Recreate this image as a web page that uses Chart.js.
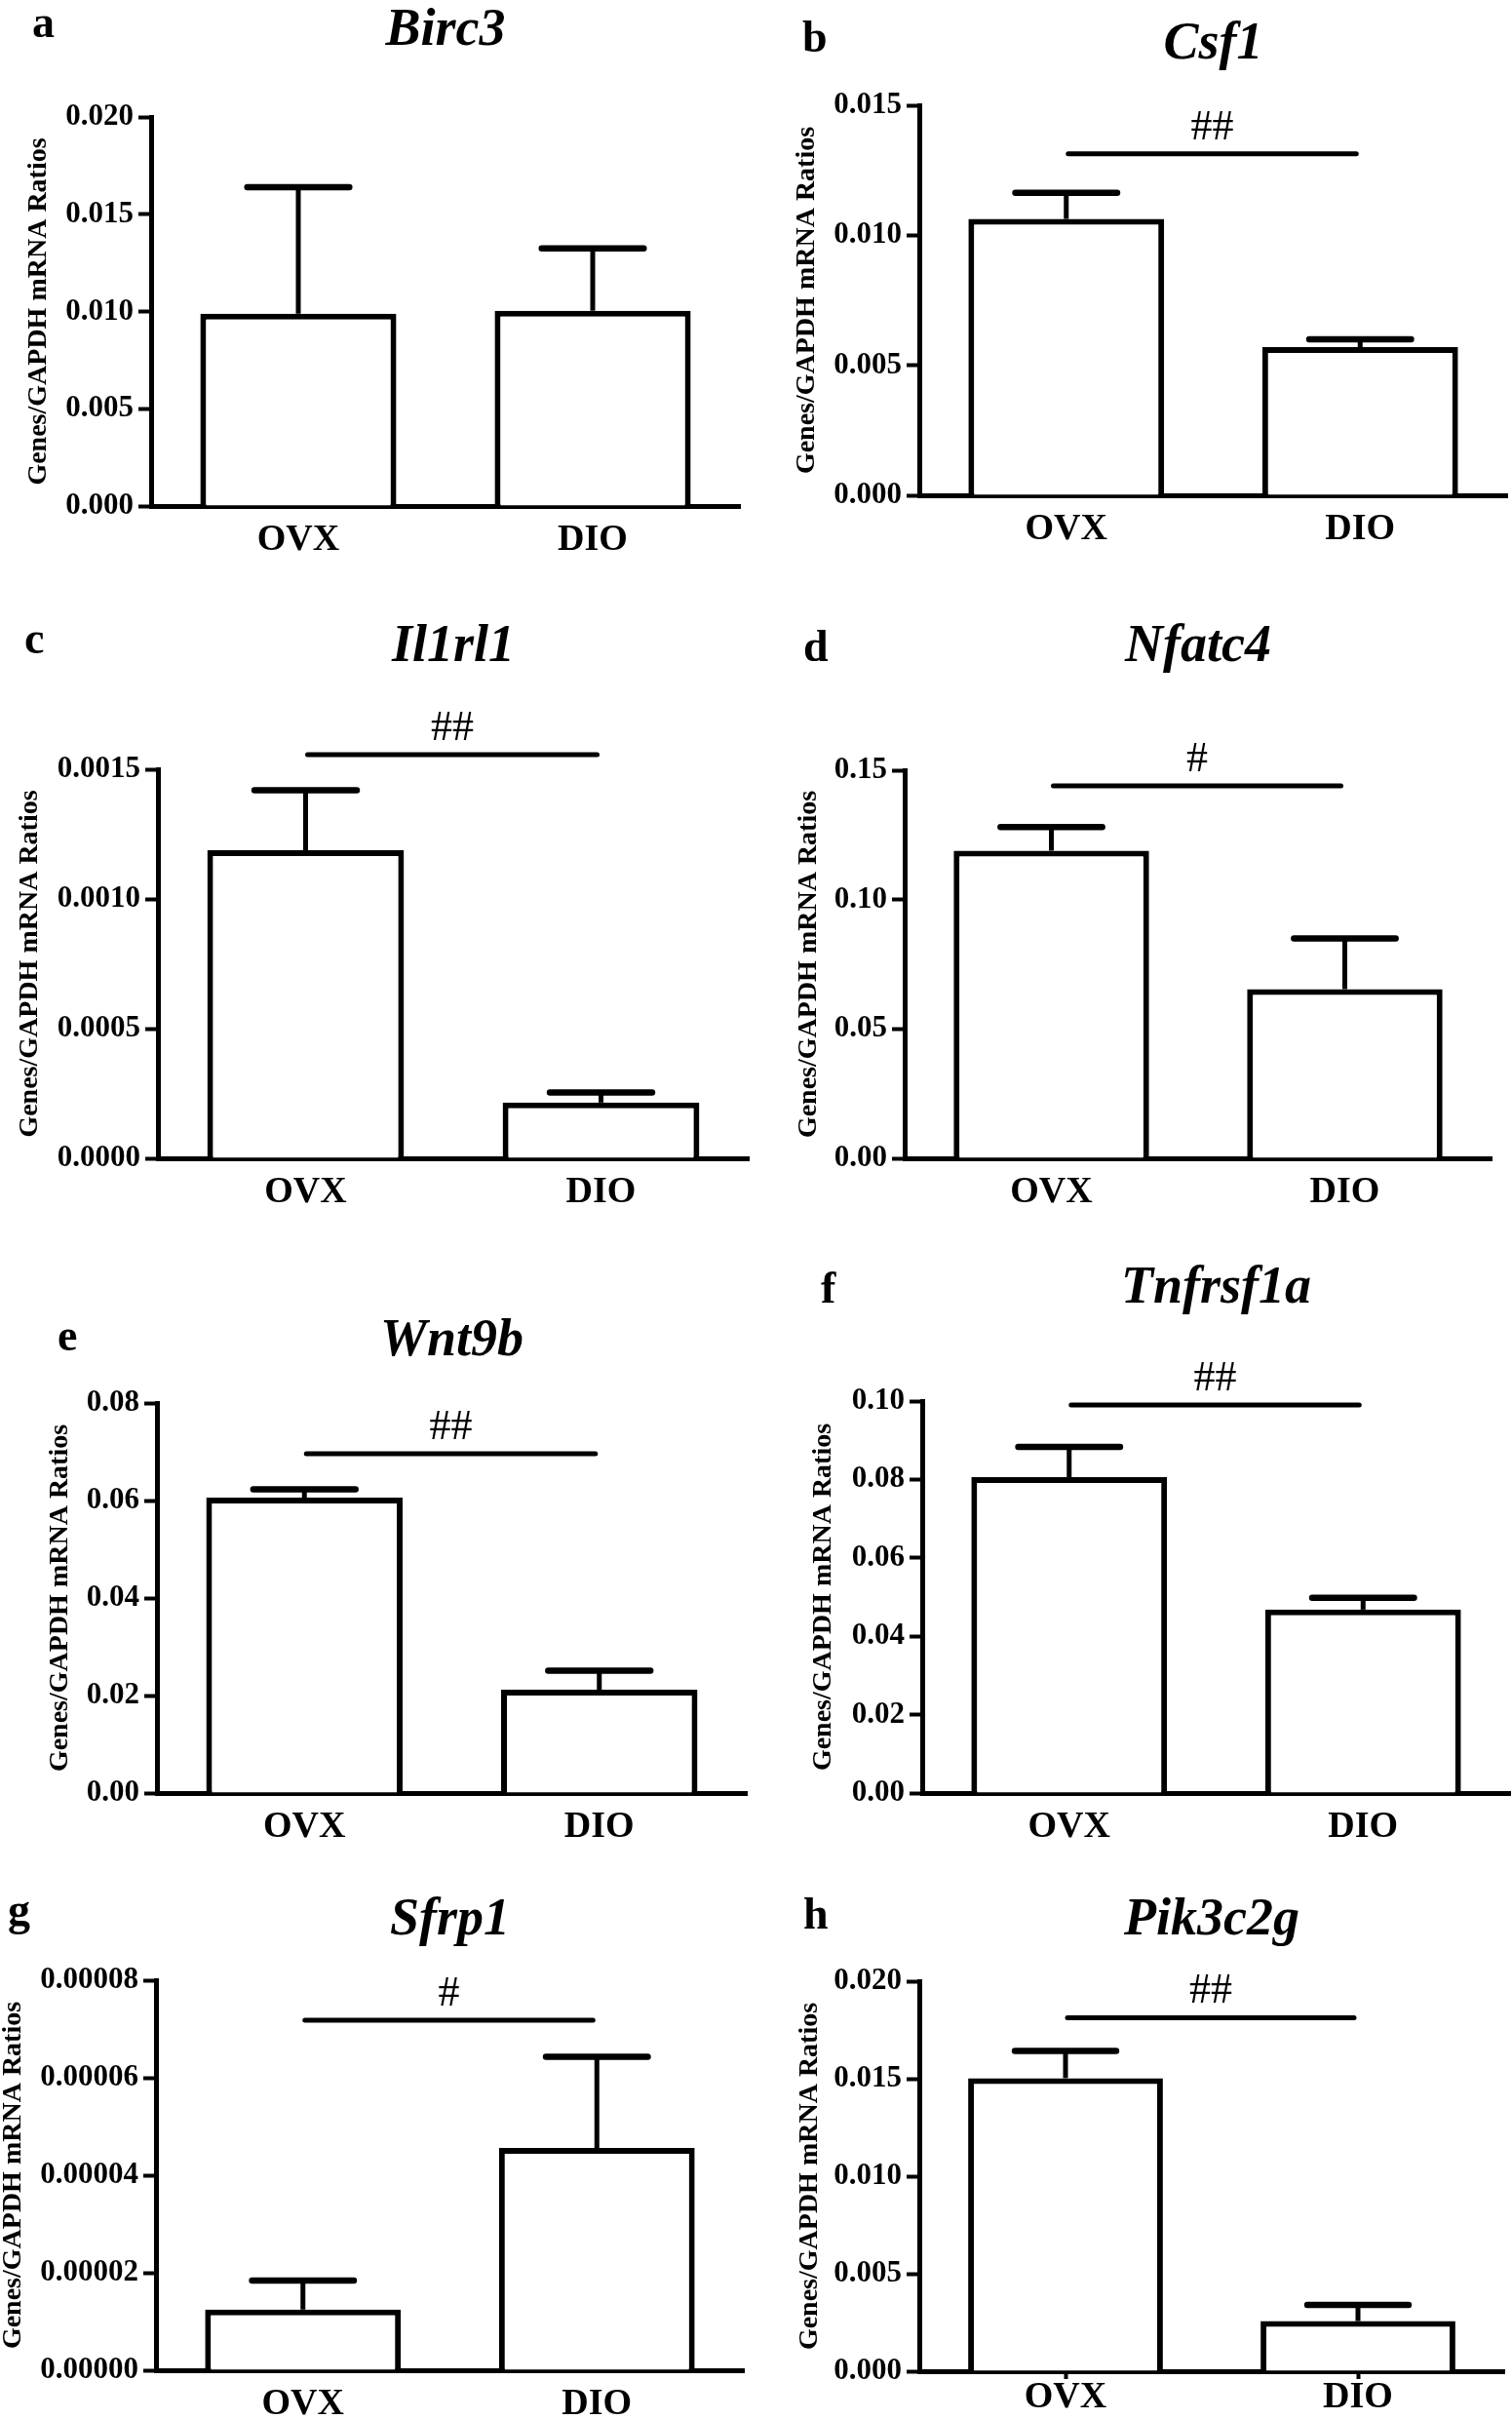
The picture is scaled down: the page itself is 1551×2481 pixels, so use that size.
<!DOCTYPE html>
<html>
<head>
<meta charset="utf-8">
<script src="https://cdn.jsdelivr.net/npm/chart.js@4.4.1/dist/chart.umd.min.js"></script>
<style>
  html, body { margin: 0; padding: 0; background: #fff; }
  body { width: 1551px; height: 2481px; position: relative; overflow: hidden; }
  canvas { position: absolute; }
</style>
</head>
<body>
<script>
// --- data ---
const groups = ['OVX', 'DIO'];
const genes = ['Birc3', 'Csf1', 'Il1rl1', 'Nfatc4', 'Wnt9b', 'Tnfrsf1a', 'Sfrp1', 'Pik3c2g'];
const letters = ['a', 'b', 'c', 'd', 'e', 'f', 'g', 'h'];

// mean per group (OVX, DIO)
const means = [
  [0.00989, 0.01004],
  [0.01063, 0.00570],
  [0.001188, 0.000215],
  [0.1189, 0.0654],
  [0.0606, 0.0212],
  [0.0806, 0.0468],
  [0.00001245, 0.0000456],
  [0.01503, 0.00257]
];
// upper error (SEM)
const sems = [
  [0.0065, 0.0032],
  [0.0010, 0.0003],
  [0.000231, 0.000039],
  [0.0091, 0.0196],
  [0.0017, 0.0039],
  [0.0077, 0.0030],
  [0.00000595, 0.0000187],
  [0.0014, 0.00083]
];
const yTickLabels = [
  ['0.000', '0.005', '0.010', '0.015', '0.020'],
  ['0.000', '0.005', '0.010', '0.015'],
  ['0.0000', '0.0005', '0.0010', '0.0015'],
  ['0.00', '0.05', '0.10', '0.15'],
  ['0.00', '0.02', '0.04', '0.06', '0.08'],
  ['0.00', '0.02', '0.04', '0.06', '0.08', '0.10'],
  ['0.00000', '0.00002', '0.00004', '0.00006', '0.00008'],
  ['0.000', '0.005', '0.010', '0.015', '0.020']
];
const sigMarks = ['', '##', '##', '#', '##', '##', '#', '##'];
const sigLevels = [null, 0.01313, 0.001556, 0.144, 0.0696, 0.099, 0.0000718, 0.01813];

const yTitle = 'Genes/GAPDH mRNA Ratios';

// --- page layout (pixels on the page) ---
const layout = [
  { left: 0,   top: 0,    w: 775, h: 600, axisX: 155, axisR: 759,  yTop: 120,  yBot: 519,  yTitleX: 40,  letter: [33, 38],    titleBase: 46 },
  { left: 775, top: 0,    w: 776, h: 600, axisX: 943, axisR: 1546, yTop: 108,  yBot: 508,  yTitleX: 828, letter: [823, 53],   titleBase: 60 },
  { left: 0,   top: 600,  w: 775, h: 670, axisX: 162, axisR: 768,  yTop: 789,  yBot: 1188, yTitleX: 31,  letter: [25, 670],   titleBase: 678 },
  { left: 775, top: 600,  w: 776, h: 670, axisX: 928, axisR: 1530, yTop: 790,  yBot: 1188, yTitleX: 830, letter: [824, 678],  titleBase: 678 },
  { left: 0,   top: 1270, w: 775, h: 635, axisX: 161, axisR: 766,  yTop: 1439, yBot: 1839, yTitleX: 62,  letter: [59, 1385],  titleBase: 1390 },
  { left: 775, top: 1270, w: 776, h: 635, axisX: 946, axisR: 1549, yTop: 1437, yBot: 1839, yTitleX: 845, letter: [842, 1336], titleBase: 1336 },
  { left: 0,   top: 1905, w: 775, h: 576, axisX: 160, axisR: 763,  yTop: 2031, yBot: 2431, yTitleX: 13,  letter: [8, 1974],   titleBase: 1984 },
  { left: 775, top: 1905, w: 776, h: 576, axisX: 943, axisR: 1543, yTop: 2032, yBot: 2432, yTitleX: 831, letter: [824, 1978], titleBase: 1984 }
];

const SERIF = "'Liberation Serif', 'Times New Roman', serif";
Chart.defaults.font.family = SERIF;
Chart.defaults.color = '#000';

// error bars, significance bar, panel letter and gene title
const panelDecor = {
  id: 'panelDecor',
  afterDatasetsDraw(chart, args, opts) {
    const { ctx, scales: { x, y } } = chart;
    const i = opts.index;
    const meta = chart.getDatasetMeta(0);
    ctx.save();
    ctx.strokeStyle = '#000';
    meta.data.forEach((bar, k) => {
      const top = y.getPixelForValue(means[i][k] + sems[i][k]);
      ctx.lineWidth = 5;
      ctx.lineCap = 'butt';
      ctx.beginPath();
      ctx.moveTo(bar.x, bar.y);
      ctx.lineTo(bar.x, top);
      ctx.stroke();
      const half = bar.width * 0.26;
      ctx.lineWidth = 6.5;
      ctx.lineCap = 'round';
      ctx.beginPath();
      ctx.moveTo(bar.x - half, top);
      ctx.lineTo(bar.x + half, top);
      ctx.stroke();
    });

    if (sigLevels[i] !== null) {
      const ly = y.getPixelForValue(sigLevels[i]);
      const x1 = x.getPixelForValue(0) + 2;
      const x2 = x.getPixelForValue(1) - 4;
      ctx.lineWidth = 5;
      ctx.lineCap = 'round';
      ctx.beginPath();
      ctx.moveTo(x1, ly);
      ctx.lineTo(x2, ly);
      ctx.stroke();
      ctx.fillStyle = '#000';
      ctx.font = '44px ' + SERIF;
      ctx.textAlign = 'center';
      ctx.textBaseline = 'alphabetic';
      ctx.fillText(sigMarks[i], (x1 + x2) / 2, ly - 15);
    }
    ctx.restore();
  },
  afterDraw(chart, args, opts) {
    const { ctx, chartArea } = chart;
    const i = opts.index;
    const L = layout[i];
    ctx.save();
    ctx.fillStyle = '#000';
    ctx.textBaseline = 'alphabetic';
    ctx.textAlign = 'left';
    ctx.font = 'bold 46px ' + SERIF;
    ctx.fillText(letters[i], L.letter[0] - L.left, L.letter[1] - L.top);
    ctx.textAlign = 'center';
    ctx.font = 'italic bold 54px ' + SERIF;
    ctx.fillText(genes[i], (chartArea.left + chartArea.right) / 2, L.titleBase - L.top);
    ctx.restore();
  }
};

genes.forEach((gene, i) => {
  const L = layout[i];
  const canvas = document.createElement('canvas');
  canvas.width = L.w;
  canvas.height = L.h;
  canvas.style.left = L.left + 'px';
  canvas.style.top = L.top + 'px';
  canvas.style.width = L.w + 'px';
  canvas.style.height = L.h + 'px';
  document.body.appendChild(canvas);

  const ticks = yTickLabels[i];
  const yMax = parseFloat(ticks[ticks.length - 1]);
  const yStep = parseFloat(ticks[1]);
  const isH = i === 7;

  new Chart(canvas.getContext('2d'), {
    type: 'bar',
    data: {
      labels: groups,
      datasets: [{
        data: means[i],
        backgroundColor: '#fff',
        borderColor: '#000',
        borderWidth: 6,
        borderSkipped: 'bottom',
        barPercentage: 0.666,
        categoryPercentage: 1
      }]
    },
    options: {
      responsive: false,
      animation: false,
      devicePixelRatio: 1,
      layout: {
        padding: { left: 0, top: L.yTop - L.top, right: L.left + L.w - L.axisR, bottom: 0 }
      },
      plugins: {
        legend: { display: false },
        tooltip: { enabled: false },
        title: { display: false },
        panelDecor: { index: i }
      },
      scales: {
        x: {
          grid: {
            display: isH,
            drawOnChartArea: false,
            drawTicks: true,
            offset: false,
            tickLength: 8,
            tickWidth: 4,
            tickColor: '#000'
          },
          border: { display: true, color: '#000', width: 5 },
          ticks: {
            color: '#000',
            padding: isH ? -4 : 4,
            font: { size: 38, weight: 'bold', family: SERIF }
          },
          afterFit: (scale) => { scale.height = L.top + L.h - L.yBot; }
        },
        y: {
          min: 0,
          max: yMax,
          grid: {
            display: true,
            drawOnChartArea: false,
            drawTicks: true,
            tickLength: 13,
            tickWidth: 4,
            tickColor: '#000'
          },
          border: { display: true, color: '#000', width: 5 },
          ticks: {
            stepSize: yStep,
            color: '#000',
            padding: 5,
            font: { size: 31, weight: 'bold', family: SERIF },
            callback: (v, k) => ticks[k]
          },
          title: {
            display: true,
            text: yTitle,
            color: '#000',
            font: { size: 28, weight: 'bold', family: SERIF, lineHeight: 1 },
            padding: { top: Math.max(0, L.yTitleX - L.left - 14), bottom: 0 }
          },
          afterFit: (scale) => { scale.width = L.axisX - L.left; }
        }
      }
    },
    plugins: [panelDecor]
  });
});
</script>
</body>
</html>
